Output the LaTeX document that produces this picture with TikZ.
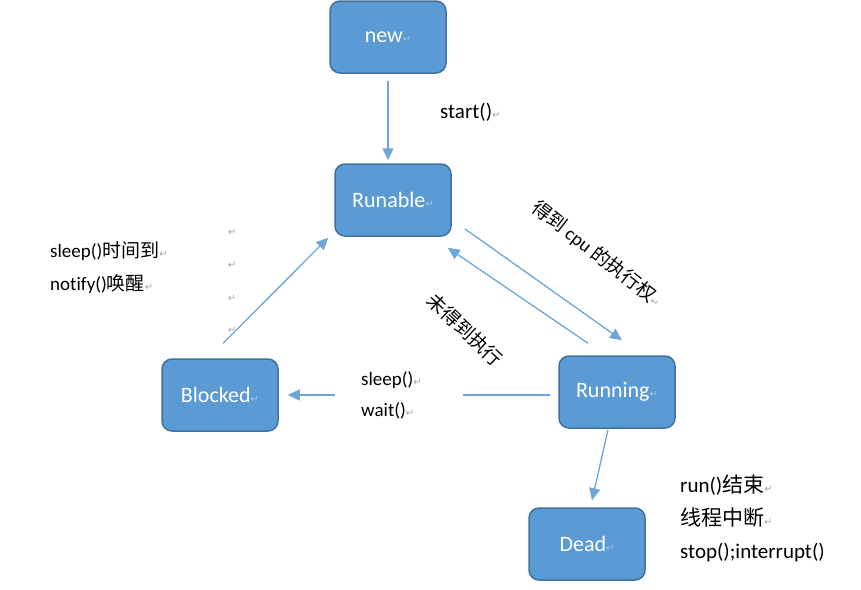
\documentclass[tikz,border=0pt]{standalone}
\usepackage{fontspec}
\setmainfont[Ligatures=NoCommon]{Carlito}
\newfontfamily\cjkf{Noto Sans CJK SC}
\newfontfamily\dvf{DejaVu Sans}
\usetikzlibrary{arrows.meta,calc}
\definecolor{boxfill}{HTML}{5B9BD5}
\definecolor{boxline}{HTML}{41719C}
\definecolor{arrowc}{HTML}{6FA6DA}
\definecolor{markc}{HTML}{A6A6A6}
\definecolor{markin}{HTML}{A9C4E4}
\newcommand\retmark{{\dvf\fontsize{10}{10}\selectfont\textcolor{markc}{↵}}}
\newcommand\retmarkin{{\dvf\fontsize{10}{10}\selectfont\textcolor{markin}{↵}}}
\begin{document}
\begin{tikzpicture}[x=1pt,y=-1pt,
  state/.style={draw=boxline, line width=1.5pt, fill=boxfill, rounded corners=10pt,
    minimum width=116pt, minimum height=72pt, text=white,
    font=\fontsize{22}{22}\selectfont, inner sep=0pt},
  conn/.style={draw=arrowc, line width=1.3pt, -{Triangle[length=12pt,width=11pt]}},
  lbl/.style={inner sep=0pt, anchor=west, align=left},
  rlbl/.style={inner sep=0pt, font=\cjkf\fontsize{19}{19}\selectfont}
]
\useasboundingbox (0,0) rectangle (861,589);

% states
\node[state] (new)  at (388,37)  {new\retmarkin};
\node[state] (run)  at (393,200) {Runable\retmarkin};
\node[state] (blk)  at (220,395) {Blocked\retmarkin};
\node[state] (rng)  at (617,392) {Running\retmarkin};
\node[state] (dead) at (587,544) {Dead\retmarkin};

% connectors
\draw[conn] ($(new.south)+(0,7)$) -- ($(new.south |- run.north)+(0,-3)$);
\draw[conn] ($(run.south east)+(13,-8)$) -- ($(rng.north)+(5,-15)$);
\draw[conn] ($(rng.north)+(-29,-12)$) -- ($(run.south east)+(-4,11)$);
\draw[conn] ($(rng.west)+(-8,3)$) -- ($(blk.east)+(9,0)$);
\draw[conn] ($(blk.north)+(3,-15)$) -- ($(run.south west)+(-6,1)$);
\draw[conn] ($(rng.south)+(-9,1)$) -- ($(dead.north)+(5,-7)$);

% labels
\node[lbl, font=\fontsize{21}{21}\selectfont] (lstart) at (440,112) {start()\retmark};
\node[lbl, font=\fontsize{19}{33}\selectfont] (lwake) at (50,267.5)
  {sleep(){\cjkf 时间到}\retmark\\ notify(){\cjkf 唤醒}\retmark};
\foreach \y/\n in {232/a,265/b,298/c,330/d}
  \node[inner sep=0pt] (m\n) at (232,\y) {\retmark};
\node[lbl, fill=white, inner ysep=5pt, text width=128pt, font=\fontsize{19}{31}\selectfont]
  (lsw) at (335,395) {\hspace*{26pt}sleep()\retmark\\ \hspace*{26pt}wait()\retmark};
\node[lbl, font=\fontsize{21}{33}\selectfont] (ldead) at (680,518)
  {run(){\cjkf 结束}\retmark\\ {\cjkf 线程中断}\retmark\\ stop();interrupt()};
\node[rlbl, rotate=-38] (lcpu) at (597,254) {得到 {\rmfamily cpu} 的执行权\retmark};
\node[rlbl, rotate=-43] (lno) at (465,330) {未得到执行};
\end{tikzpicture}
\end{document}
